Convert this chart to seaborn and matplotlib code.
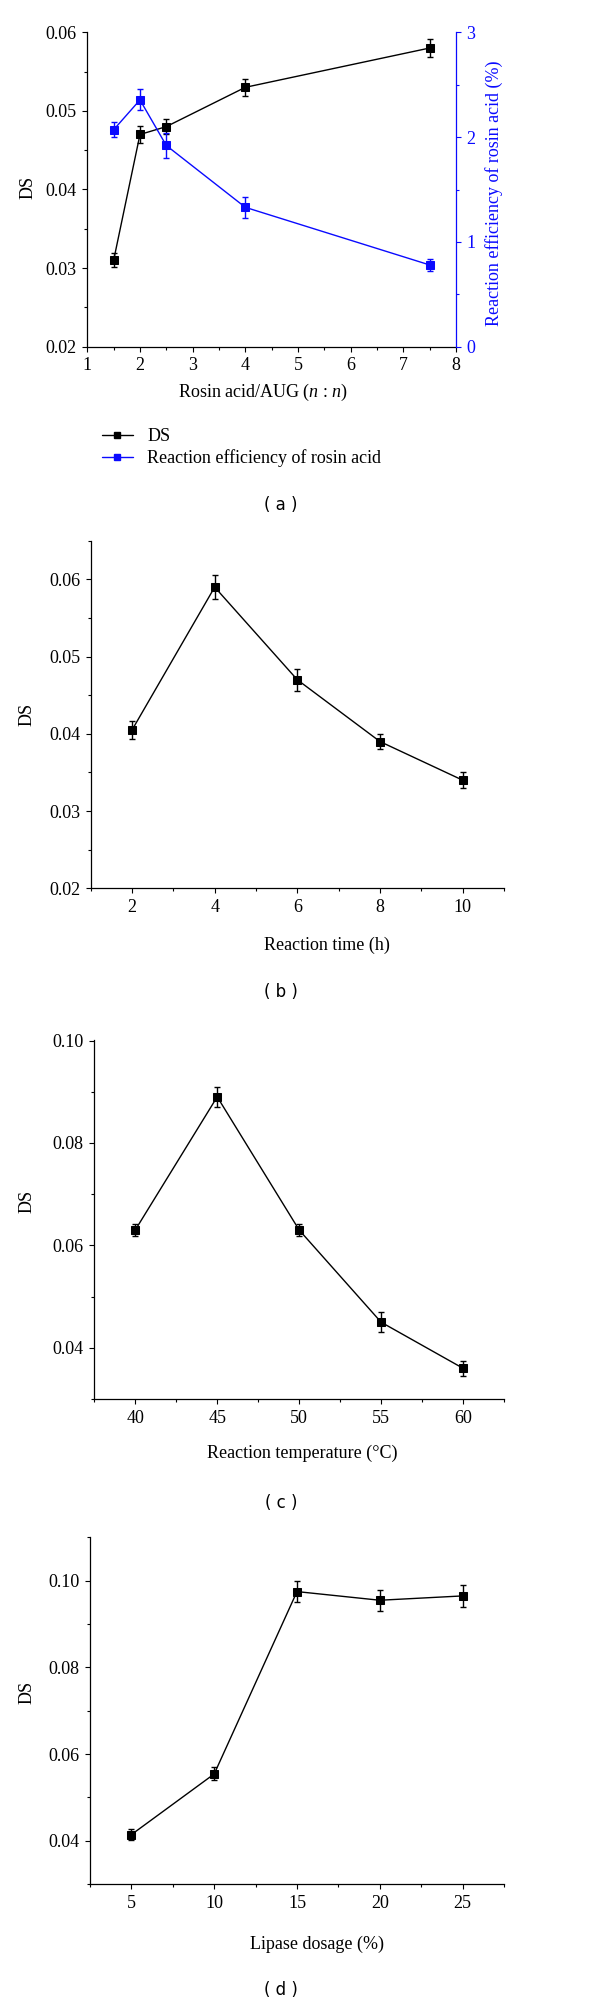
import matplotlib
matplotlib.use('Agg')
import matplotlib.pyplot as plt
import seaborn as sns
from matplotlib.lines import Line2D
from matplotlib.ticker import MultipleLocator, FormatStrFormatter

sns.set_theme(style='ticks', rc={
    'axes.edgecolor': 'black', 'text.color': 'black', 'axes.labelcolor': 'black',
    'xtick.color': 'black', 'ytick.color': 'black',
})
plt.rcParams['font.family'] = ['Liberation Serif', 'DejaVu Serif']
plt.rcParams['mathtext.fontset'] = 'custom'
plt.rcParams['mathtext.rm'] = 'Liberation Serif'
plt.rcParams['mathtext.it'] = 'Liberation Serif:italic'

BLUE = '#0a0aff'
FS = 13

# (a) rosin acid / AUG ratio
ratio = [1.5, 2, 2.5, 4, 7.5]
ds_ratio = [0.031, 0.047, 0.048, 0.053, 0.058]
ds_ratio_err = [0.0009, 0.0011, 0.0010, 0.0011, 0.0012]
eff_ratio = [2.07, 2.355, 1.92, 1.33, 0.78]
eff_ratio_err = [0.07, 0.10, 0.12, 0.10, 0.06]

# (b) reaction time
time_h = [2, 4, 6, 8, 10]
ds_time = [0.0405, 0.059, 0.047, 0.039, 0.034]
ds_time_err = [0.0012, 0.0016, 0.0014, 0.0010, 0.0010]

# (c) reaction temperature
temp_c = [40, 45, 50, 55, 60]
ds_temp = [0.063, 0.089, 0.063, 0.045, 0.036]
ds_temp_err = [0.0012, 0.0020, 0.0012, 0.0020, 0.0015]

# (d) lipase dosage
lipase = [5, 10, 15, 20, 25]
ds_lipase = [0.0414, 0.0554, 0.0975, 0.0955, 0.0965]
ds_lipase_err = [0.0013, 0.0015, 0.0025, 0.0024, 0.0025]

W, H = 600, 2005
fig = plt.figure(figsize=(W / 100, H / 100), dpi=100)


def box(l, t, r, b):
    return [l / W, 1 - b / H, (r - l) / W, (b - t) / H]


def draw(ax, x, y, err, color):
    sns.lineplot(x=x, y=y, ax=ax, color=color, marker='s', markersize=5.5,
                 markeredgecolor=color, linewidth=1.0, legend=False)
    ax.errorbar(x, y, yerr=err, fmt='none', ecolor=color, elinewidth=1.0,
                capsize=2, capthick=1.0)


def style(ax, color='black'):
    ax.tick_params(which='both', direction='out', width=0.8, labelsize=FS, pad=4,
                   colors=color)
    ax.tick_params(which='major', length=3.6)
    ax.tick_params(which='minor', length=2.0)
    for s in ax.spines.values():
        s.set_linewidth(0.9)


# ---- (a)
ax = fig.add_axes(box(87.3, 32.3, 456, 346.7))
draw(ax, ratio, ds_ratio, ds_ratio_err, 'black')
ax.set_xlim(1, 8)
ax.set_ylim(0.02, 0.06)
ax.xaxis.set_major_locator(MultipleLocator(1))
ax.xaxis.set_minor_locator(MultipleLocator(0.5))
ax.yaxis.set_major_locator(MultipleLocator(0.01))
ax.yaxis.set_minor_locator(MultipleLocator(0.005))
ax.yaxis.set_major_formatter(FormatStrFormatter('%.2f'))
ax.spines['top'].set_visible(False)
ax.spines['right'].set_visible(False)
style(ax)
ax.set_ylabel('DS', fontsize=FS, va='center')
ax.yaxis.set_label_coords(-0.160, 0.505)
ax.set_xlabel('Rosin acid/AUG ($n$ : $n$)', fontsize=FS, va='center')
ax.xaxis.set_label_coords(0.477, -0.147)

ax2 = ax.twinx()
draw(ax2, ratio, eff_ratio, eff_ratio_err, BLUE)
ax2.set_ylim(0, 3)
ax2.yaxis.set_major_locator(MultipleLocator(1))
ax2.yaxis.set_minor_locator(MultipleLocator(0.5))
for k in ['top', 'left', 'bottom']:
    ax2.spines[k].set_visible(False)
style(ax2, BLUE)
ax2.spines['right'].set_color(BLUE)
ax2.set_ylabel('Reaction efficiency of rosin acid (%)', fontsize=FS, color=BLUE,
               va='center')
ax2.yaxis.set_label_coords(1.103, 0.489)

handles = [
    Line2D([], [], color='black', marker='s', markersize=4, linewidth=1.0),
    Line2D([], [], color=BLUE, marker='s', markersize=4, linewidth=1.0),
]
ax.legend(handles, ['DS', 'Reaction efficiency of rosin acid'], loc='upper left',
          bbox_to_anchor=(102 / W, 1 - 428 / H), bbox_transform=fig.transFigure,
          frameon=False, fontsize=FS, handlelength=1.7, handletextpad=0.8,
          labelspacing=0.25, borderaxespad=0, borderpad=0)

# ---- (b)
ax = fig.add_axes(box(90.7, 540.7, 504, 888.3))
draw(ax, time_h, ds_time, ds_time_err, 'black')
ax.set_xlim(1, 11)
ax.set_ylim(0.02, 0.06501)
ax.xaxis.set_major_locator(MultipleLocator(2))
ax.xaxis.set_minor_locator(MultipleLocator(1))
ax.yaxis.set_major_locator(MultipleLocator(0.01))
ax.yaxis.set_minor_locator(MultipleLocator(0.005))
ax.yaxis.set_major_formatter(FormatStrFormatter('%.2f'))
sns.despine(ax=ax)
style(ax)
ax.set_ylabel('DS', fontsize=FS, va='center')
ax.yaxis.set_label_coords(-0.154, 0.499)
ax.set_xlabel('Reaction time (h)', fontsize=FS, va='center')
ax.xaxis.set_label_coords(0.572, -0.163)

# ---- (c)
ax = fig.add_axes(box(94.3, 1040, 504, 1399))
draw(ax, temp_c, ds_temp, ds_temp_err, 'black')
ax.set_xlim(37.5, 62.5)
ax.set_ylim(0.03, 0.1001)
ax.xaxis.set_major_locator(MultipleLocator(5))
ax.xaxis.set_minor_locator(MultipleLocator(2.5))
ax.yaxis.set_major_locator(MultipleLocator(0.02))
ax.yaxis.set_minor_locator(MultipleLocator(0.01))
ax.yaxis.set_major_formatter(FormatStrFormatter('%.2f'))
sns.despine(ax=ax)
style(ax)
ax.set_ylabel('DS', fontsize=FS, va='center')
ax.yaxis.set_label_coords(-0.164, 0.549)
ax.set_xlabel('Reaction temperature (°C)', fontsize=FS, va='center')
ax.xaxis.set_label_coords(0.507, -0.150)

# ---- (d)
ax = fig.add_axes(box(90, 1537, 504, 1884))
draw(ax, lipase, ds_lipase, ds_lipase_err, 'black')
ax.set_xlim(2.5, 27.5)
ax.set_ylim(0.03, 0.1101)
ax.xaxis.set_major_locator(MultipleLocator(5))
ax.xaxis.set_minor_locator(MultipleLocator(2.5))
ax.yaxis.set_major_locator(MultipleLocator(0.02))
ax.yaxis.set_minor_locator(MultipleLocator(0.01))
ax.yaxis.set_major_formatter(FormatStrFormatter('%.2f'))
sns.despine(ax=ax)
style(ax)
ax.set_ylabel('DS', fontsize=FS, va='center')
ax.yaxis.set_label_coords(-0.152, 0.553)
ax.set_xlabel('Lipase dosage (%)', fontsize=FS, va='center')
ax.xaxis.set_label_coords(0.548, -0.173)

# panel tags
for tag, y in [('( a )', 505), ('( b )', 992), ('( c )', 1503), ('( d )', 1990)]:
    fig.text(281 / W, 1 - y / H, tag, family='DejaVu Sans', fontsize=12,
             ha='center', va='center')

fig.savefig('out.png', dpi=100)
